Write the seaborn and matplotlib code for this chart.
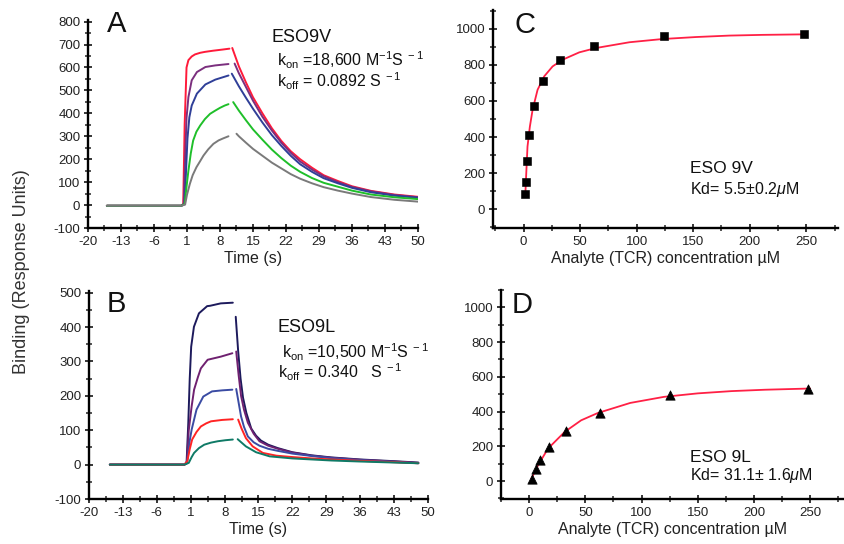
import matplotlib
matplotlib.use("Agg")
import matplotlib.pyplot as plt
import seaborn as sns
import pandas as pd

# ---- panel A : ESO9V sensorgrams (association / dissociation) ----
a_labels = ["red", "purple", "blue", "green", "gray"]
a_colors = ["#ff1a3a", "#7b2f7e", "#2f3f98", "#1fbf2a", "#7a7a7a"]
a_on_t = [
    [-16, -0.2, 0.2, 0.5, 0.9, 1.3, 2.0, 2.7, 3.8, 4.8, 6.5, 8.5, 10.0],
    [-16, -0.2, 0.3, 0.6, 0.9, 1.3, 2.0, 3.1, 4.9, 7.0, 9.8],
    [-16, -0.2, 0.5, 0.8, 1.1, 1.5, 2.0, 3.1, 4.9, 7.0, 9.8],
    [-16, -0.2, 0.5, 0.9, 1.3, 1.8, 2.3, 3.0, 3.8, 4.8, 5.9, 7.0, 8.0, 9.0, 9.8],
    [-16, -0.2, 0.6, 1.0, 1.6, 2.2, 3.0, 3.8, 4.5, 5.5, 6.6, 7.7, 8.7, 9.8],
]
a_on_y = [
    [-3, -3, 5, 350, 600, 632, 648, 657, 664, 668, 673, 678, 682],
    [-3, -3, 5, 200, 380, 471, 544, 580, 602, 609, 615],
    [-3, -3, 5, 150, 290, 383, 434, 486, 526, 547, 565],
    [-3, -3, 5, 80, 150, 225, 281, 320, 347, 375, 398, 412, 424, 434, 440],
    [-3, -3, 2, 45, 92, 130, 165, 192, 216, 243, 267, 282, 291, 300],
]
a_off_t = [12, 13.5, 15, 17, 19, 21, 23, 25, 27.5, 30, 33, 36, 40, 45, 50]
a_off_start_t = [10.6, 11.1, 10.5, 10.8, 11.5]
a_off_start_y = [685, 617, 573, 449, 311]
a_off_y = [
    [605, 535, 470, 400, 335, 280, 235, 200, 163, 130, 105, 82, 62, 46, 36],
    [575, 515, 455, 385, 325, 272, 228, 190, 155, 125, 100, 79, 60, 44, 34],
    [518, 468, 420, 360, 305, 258, 215, 178, 145, 117, 95, 75, 56, 41, 32],
    [412, 370, 330, 285, 242, 205, 172, 145, 118, 97, 80, 63, 46, 34, 26],
    [300, 272, 245, 215, 185, 160, 135, 115, 95, 78, 63, 50, 35, 23, 15],
]

# ---- panel B : ESO9L sensorgrams ----
b_colors = ["#1d1a5c", "#6f2170", "#3a4ba3", "#ff2424", "#0f7a66"]
b_on_t = [
    [-15.7, -0.3, 0.14, 0.5, 0.8, 1.1, 1.67, 2.7, 4.4, 5.0, 7.2, 9.7],
    [-15.7, -0.3, 0.2, 0.6, 1.2, 1.7, 2.5, 3.1, 4.5, 7.2, 9.6],
    [-15.7, -0.3, 0.3, 0.8, 1.2, 2.2, 3.6, 5.4, 7.5, 9.6],
    [-15.7, -0.3, 0.3, 0.8, 1.3, 2.2, 3.1, 4.2, 5.2, 7.5, 9.7],
    [-15.7, -0.3, 0.6, 1.2, 1.7, 2.7, 3.8, 5.2, 6.6, 8.2, 9.7],
]
b_on_y = [
    [0, 0, 3, 120, 250, 343, 401, 440, 461, 462, 469, 471],
    [0, 0, 5, 100, 170, 218, 255, 280, 305, 314, 324],
    [0, 0, 10, 70, 102, 160, 198, 213, 216, 218],
    [0, 0, 10, 45, 73, 95, 111, 120, 126, 130, 132],
    [0, 0, 5, 22, 34, 48, 58, 64, 68, 71, 73],
]
b_off_t = [
    [10.3, 10.8, 11.3, 11.8, 12.5, 13.5, 14.5, 15.5, 17, 19, 22, 26, 30, 36, 43, 48],
    [10.4, 10.9, 11.4, 12, 12.8, 14, 15.2, 17, 19, 22, 26, 30, 36, 43, 48],
    [10.4, 10.9, 11.4, 12, 12.8, 14, 15.2, 17, 19, 22, 26, 30, 36, 43, 48],
    [10.8, 11.5, 12.4, 13.8, 15.9, 18.7, 22, 26, 30, 36, 43, 48],
    [10.7, 12.4, 14.5, 17.3, 22, 26, 30, 36, 43, 48],
]
b_off_y = [
    [430, 330, 250, 195, 150, 105, 84, 70, 58, 48, 36, 27, 21, 15, 10, 6],
    [329, 260, 200, 160, 122, 90, 68, 55, 46, 35, 26, 20, 14, 9, 5],
    [220, 180, 140, 110, 82, 65, 55, 46, 40, 32, 25, 19, 13, 8, 4],
    [131, 105, 77, 53, 34, 26, 22, 18, 15, 11, 7, 4],
    [74, 53, 36, 24, 18, 15, 12, 9, 6, 4],
]

# ---- panel C : ESO 9V steady state ----
c_conc = [1.5, 2.1, 3.0, 5.0, 8.9, 16.8, 32.2, 62.6, 124.6, 247.6]
c_resp = [82, 152, 267, 412, 570, 709, 826, 905, 963, 970]
c_fit_x = [1.5, 2.4, 3.5, 5.6, 8.0, 12.4, 18.3, 25.7, 34.5, 49.3, 64, 93.6, 123, 152.6, 182, 211.6, 250]
c_fit_y = [69, 199, 347, 458, 551, 662, 737, 792, 829, 870, 894, 926, 944, 955, 963, 967, 970]

# ---- panel D : ESO 9L steady state ----
d_conc = [2.7, 5.9, 9.4, 17.4, 32.5, 62.9, 124.9, 247.9]
d_resp = [11, 69, 124, 197, 289, 394, 493, 532]
d_fit_x = [2.1, 8.0, 16.8, 31.6, 46.3, 61.1, 90.0, 120, 150, 180, 210, 250]
d_fit_y = [15, 92, 187, 283, 350, 392, 450, 485, 505, 518, 526, 533]

time_ticks = [-20, -13, -6, 1, 8, 15, 22, 29, 36, 43, 50]

sns.set_style("ticks")
plt.rcParams["font.family"] = ["Liberation Sans", "DejaVu Sans"]
plt.rcParams["mathtext.fontset"] = "custom"
plt.rcParams["mathtext.rm"] = "Liberation Sans"
plt.rcParams["mathtext.it"] = "Liberation Sans:italic"
plt.rcParams["mathtext.default"] = "regular"
plt.rcParams["axes.unicode_minus"] = False

W, H = 845, 544
fig = plt.figure(figsize=(W / 100, H / 100), dpi=100)


def px_axes(left, top, right, bottom):
    return fig.add_axes([left / W, 1 - bottom / H, (right - left) / W, (bottom - top) / H])


def px_text(x, y, s, size, **kw):
    fig.text(x / W, 1 - y / H, s, fontsize=size, va="baseline", ha="left", color="#111111", **kw)


def style_axis(ax, xlim, ylim, xmaj, xmin, ymaj, ymin, xlabel):
    ax.set_xlim(*xlim)
    ax.set_ylim(*ylim)
    ax.set_xticks(xmaj)
    ax.set_xticks(xmin, minor=True)
    ax.set_yticks(ymaj)
    ax.set_yticks(ymin, minor=True)
    sns.despine(ax=ax)
    for s in ["left", "bottom"]:
        ax.spines[s].set_linewidth(1.7)
        ax.spines[s].set_color("black")
    ax.tick_params(which="major", direction="inout", length=6, width=1.3,
                   labelsize=9.5, labelcolor="#222222", pad=2.5)
    ax.tick_params(which="minor", direction="inout", length=4.5, width=1.1)
    ax.set_xlabel(xlabel, fontsize=11.5, labelpad=2.5, color="#222222")
    ax.set_ylabel("")


def half_steps(ticks):
    return [ticks[0] + 3.5 * i for i in range(2 * (len(ticks) - 1) + 1)]


# panel A
ax_a = px_axes(88, 20, 418, 228)
for i in range(len(a_labels)):
    sns.lineplot(x=a_on_t[i], y=a_on_y[i], ax=ax_a, color=a_colors[i], lw=1.4, sort=False)
    sns.lineplot(x=[a_off_start_t[i]] + a_off_t, y=[a_off_start_y[i]] + a_off_y[i],
                 ax=ax_a, color=a_colors[i], lw=1.4, sort=False)
style_axis(ax_a, (-20, 50), (-100, 807), time_ticks, half_steps(time_ticks),
           list(range(-100, 801, 100)), list(range(-100, 801, 50)), "Time (s)")

# panel B
ax_b = px_axes(89, 291, 428, 499)
for i in range(len(b_colors)):
    sns.lineplot(x=b_on_t[i], y=b_on_y[i], ax=ax_b, color=b_colors[i], lw=1.4, sort=False)
    sns.lineplot(x=b_off_t[i], y=b_off_y[i], ax=ax_b, color=b_colors[i], lw=1.4, sort=False)
style_axis(ax_b, (-20, 50), (-100, 505), time_ticks, half_steps(time_ticks),
           list(range(-100, 501, 100)), list(range(-100, 501, 50)), "Time (s)")

# panel C
ax_c = px_axes(493, 10, 838, 228)
sns.lineplot(x=c_fit_x, y=c_fit_y, ax=ax_c, color="#ff2045", lw=1.3, sort=False)
sns.scatterplot(x=c_conc, y=c_resp, ax=ax_c, marker="s", s=28, color="black",
                edgecolor="black", zorder=3)
style_axis(ax_c, (-27, 278), (-105, 1105), list(range(0, 251, 50)), list(range(-25, 276, 25)),
           list(range(0, 1001, 200)), list(range(-100, 1101, 100)),
           "Analyte (TCR) concentration µM")

# panel D
ax_d = px_axes(501, 290, 845, 499)
sns.lineplot(x=d_fit_x, y=d_fit_y, ax=ax_d, color="#ff2045", lw=1.3, sort=False)
sns.scatterplot(x=d_conc, y=d_resp, ax=ax_d, marker="^", s=45, color="black",
                edgecolor="black", zorder=3)
style_axis(ax_d, (-24, 281), (-103, 1098), list(range(0, 251, 50)), list(range(-25, 276, 25)),
           list(range(0, 1001, 200)), list(range(-100, 1101, 100)),
           "Analyte (TCR) concentration µM")

# annotations
px_text(107, 32, "A", 21)
px_text(272, 42, "ESO9V", 13)
px_text(277, 66, r"k$_{on}$ =18,600 M$^{-1}$S$^{\ -1}$", 11.5)
px_text(277, 87, r"k$_{off}$ = 0.0892 S$^{\ -1}$", 11.5)

px_text(107, 312, "B", 21)
px_text(278, 332, "ESO9L", 13)
px_text(282, 358, r"k$_{on}$ =10,500 M$^{-1}$S$^{\ -1}$", 11.5)
px_text(278, 378, r"k$_{off}$ = 0.340   S$^{\ -1}$", 11.5)

px_text(514, 33, "C", 21)
px_text(690, 173, "ESO 9V", 12.5)
px_text(690, 194, r"Kd= 5.5±0.2$\mathit{\mu}$M", 11.5)

px_text(512, 313, "D", 21)
px_text(690, 462, "ESO 9L", 12.5)
px_text(690, 480, r"Kd= 31.1± 1.6$\mathit{\mu}$M", 11.5)

fig.text(22 / W, 0.5, "Binding (Response Units)", rotation=90, va="center", ha="center",
         fontsize=13, color="#333333")

fig.savefig("out.png", dpi=100)
